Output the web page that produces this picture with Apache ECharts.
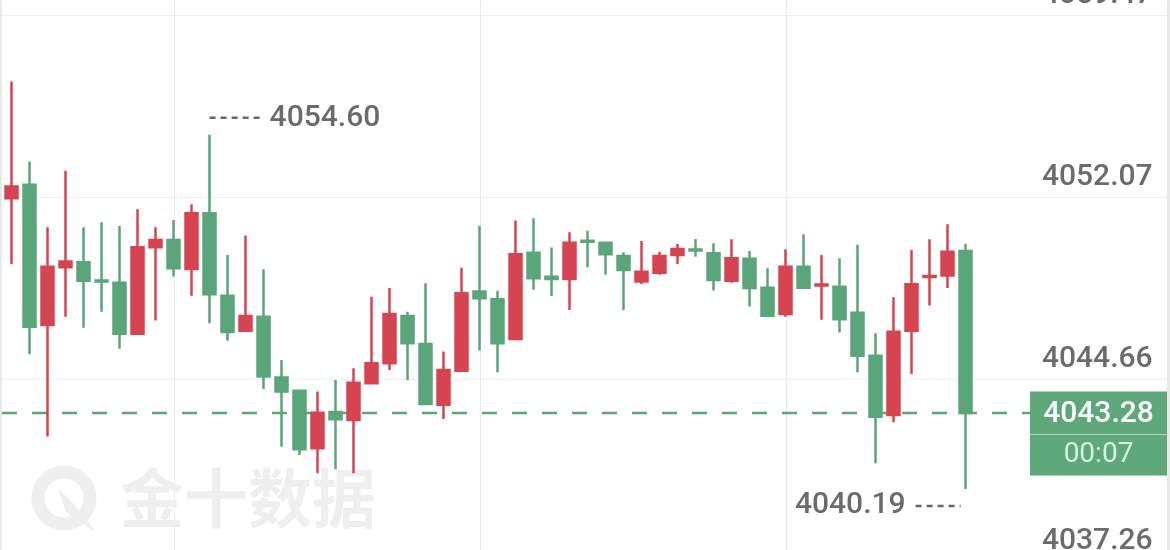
<!DOCTYPE html>
<html>
<head>
<meta charset="utf-8">
<script src="https://cdn.jsdelivr.net/npm/echarts@6/dist/echarts.min.js"></script>
<style>
html,body{margin:0;padding:0;background:#ffffff;}
#c{width:1170px;height:550px;}
</style>
</head>
<body>
<div id="c"></div>
<script>
// ---------- data ----------
const categories = ['1','2','3','4','5','6','7','8','9','10','11','12','13','14','15','16','17','18','19','20',
  '21','22','23','24','25','26','27','28','29','30','31','32','33','34','35','36','37','38','39','40',
  '41','42','43','44','45','46','47','48','49','50','51','52','53','54'];

const opens = [4052.02, 4052.56, 4046.86, 4049.21, 4049.41, 4048.67, 4048.58, 4046.50, 4050.02, 4050.32,
  4049.14, 4051.41, 4048.05, 4046.63, 4047.20, 4044.72, 4044.19, 4041.85, 4043.32, 4043.00,
  4044.49, 4045.30, 4047.23, 4046.09, 4043.62, 4045.00, 4048.22, 4047.91, 4046.29, 4049.80,
  4048.82, 4048.73, 4050.29, 4050.21, 4049.67, 4048.63, 4048.99, 4049.71, 4049.93, 4049.78,
  4048.66, 4049.55, 4048.38, 4047.31, 4049.23, 4048.47, 4048.42, 4047.36, 4045.61, 4043.20,
  4046.63, 4048.81, 4048.87, 4049.87];

const closes = [4052.49, 4046.79, 4049.23, 4049.44, 4048.66, 4048.63, 4046.50, 4050.02, 4050.32, 4049.17,
  4051.41, 4048.11, 4046.58, 4047.23, 4044.76, 4044.15, 4041.81, 4043.29, 4043.03, 4044.51,
  4045.30, 4047.31, 4046.12, 4043.65, 4045.03, 4048.15, 4047.95, 4046.12, 4049.74, 4048.76,
  4048.73, 4050.21, 4050.25, 4049.74, 4049.10, 4049.03, 4049.67, 4049.95, 4049.89, 4048.69,
  4049.58, 4048.36, 4047.24, 4049.23, 4048.38, 4048.51, 4047.09, 4045.61, 4043.13, 4046.59,
  4048.52, 4048.85, 4049.84, 4043.28];

const lows = [4049.33, 4045.67, 4042.32, 4047.20, 4046.75, 4047.40, 4045.89, 4046.48, 4047.04, 4048.83,
  4048.05, 4046.93, 4046.22, 4046.60, 4044.26, 4041.91, 4041.57, 4040.83, 4040.99, 4040.83,
  4044.47, 4045.03, 4044.62, 4043.63, 4043.04, 4044.98, 4045.82, 4044.94, 4046.27, 4048.29,
  4048.04, 4047.47, 4049.21, 4048.90, 4047.47, 4048.53, 4048.90, 4049.34, 4049.64, 4048.26,
  4048.58, 4047.61, 4047.18, 4047.20, 4048.36, 4047.07, 4046.55, 4044.94, 4041.24, 4042.90,
  4044.87, 4047.65, 4048.36, 4040.19];

const highs = [4056.76, 4053.51, 4050.84, 4053.13, 4050.84, 4051.04, 4050.89, 4051.57, 4050.84, 4051.13,
  4051.77, 4054.60, 4049.71, 4050.50, 4049.13, 4045.44, 4044.22, 4044.15, 4044.62, 4045.10,
  4048.01, 4048.36, 4047.40, 4048.56, 4045.78, 4049.19, 4050.89, 4048.25, 4051.11, 4051.20,
  4050.01, 4050.63, 4050.69, 4050.23, 4049.82, 4050.28, 4049.84, 4050.15, 4050.36, 4050.19,
  4050.35, 4049.87, 4049.17, 4049.94, 4050.55, 4049.71, 4049.58, 4050.12, 4046.52, 4047.99,
  4049.91, 4050.35, 4050.96, 4050.16];

const yTicks = [4037.26, 4044.66, 4052.07, 4059.47];
const lastPrice = 4043.28;
const countdown = '00:07';
const hiMarkIndex = 11;
const loMarkIndex = 53;
const vLineIndices = [9, 26, 43];
const watermarkText = '金十数据';

// ---------- styles ----------
const RED = '#d64452';
const GREEN = '#5aa57a';
const BOX = '#5ea87c';
const LABEL = '#6b6b6b';
const FONT = 'Roboto, "Noto Sans", sans-serif';

const chart = echarts.init(document.getElementById('c'), null, {renderer: 'canvas'});
const yMin = yTicks[0];
const yMax = yTicks[yTicks.length - 1];
const yStep = (yMax - yMin) / (yTicks.length - 1);

const option = {
  animation: false,
  backgroundColor: '#ffffff',
  grid: {left: 2.6, right: -2.6, top: 15, bottom: -11, containLabel: false, outerBoundsMode: 'none'},
  xAxis: {
    type: 'category',
    data: categories,
    max: 64,
    boundaryGap: true,
    axisLine: {show: false},
    axisTick: {show: false},
    axisLabel: {show: false},
    splitLine: {show: false}
  },
  yAxis: {
    type: 'value',
    position: 'right',
    min: yMin,
    max: yMax,
    interval: yStep,
    scale: true,
    axisLine: {show: false},
    axisTick: {show: false},
    splitLine: {show: true, lineStyle: {color: '#eeeeee', width: 1}},
    axisLabel: {
      inside: true,
      margin: 20,
      align: 'right',
      verticalAlign: 'bottom',
      padding: [0, 0, 5, 0],
      color: LABEL,
      fontSize: 30,
      fontWeight: 500,
      fontFamily: FONT,
      formatter: function (v) {
        let best = yTicks[0];
        yTicks.forEach(function (t) { if (Math.abs(t - v) < Math.abs(best - v)) best = t; });
        return best.toFixed(2);
      }
    }
  },
  series: [{
    type: 'candlestick',
    z: 5,
    barWidth: 12.5,
    data: opens.map(function (o, i) { return [o, closes[i], lows[i], highs[i]]; }),
    itemStyle: {
      color: RED, color0: GREEN,
      borderColor: RED, borderColor0: GREEN,
      borderWidth: 2.5
    }
  }]
};
chart.setOption(option);

function px(i, v) { return chart.convertToPixel({seriesIndex: 0}, [i, v]); }

const g = [];
// vertical grid lines
vLineIndices.forEach(function (idx) {
  const x = Math.round(px(idx, yMin)[0]) + 0.5;
  g.push({type: 'line', z: 0, silent: true, shape: {x1: x, y1: 0, x2: x, y2: 550},
    style: {stroke: '#ebebeb', lineWidth: 1}});
});
// edges
g.push({type: 'rect', z: 50, silent: true, shape: {x: 0, y: 0, width: 2, height: 550}, style: {fill: '#e8e8e8'}});
g.push({type: 'rect', z: 50, silent: true, shape: {x: 1167, y: 0, width: 3, height: 550}, style: {fill: '#e8e8e8'}});

// watermark
g.push({type: 'circle', z: 1, silent: true, shape: {cx: 64, cy: 498, r: 26},
  style: {fill: 'none', stroke: '#eeeeee', lineWidth: 13}});
g.push({type: 'polygon', z: 1, silent: true, shape: {points: [[58, 488], [74, 504], [96, 532], [66, 512]]},
  style: {fill: '#eeeeee'}});
g.push({type: 'text', z: 1, silent: true, x: 120, y: 498,
  style: {text: watermarkText, fill: '#eeeeee', font: 'bold 64px "Noto Sans CJK SC"', align: 'left', verticalAlign: 'middle'}});

// current price dashed line
const pLast = px(opens.length - 1, lastPrice);
const yl = Math.round(pLast[1]);
g.push({type: 'line', z: 1, silent: true, shape: {x1: 2, y1: yl, x2: 1030, y2: yl},
  style: {stroke: GREEN, lineWidth: 2.5, lineDash: [15, 15]}});

// price box
g.push({type: 'rect', z: 60, silent: true, shape: {x: 1030, y: yl - 21.5, width: 137, height: 84}, style: {fill: BOX}});
g.push({type: 'line', z: 61, silent: true, shape: {x1: 1030, y1: yl + 21.5, x2: 1167, y2: yl + 21.5},
  style: {stroke: 'rgba(255,255,255,0.55)', lineWidth: 1}});
g.push({type: 'text', z: 62, silent: true, x: 1098.5, y: yl + 1,
  style: {text: lastPrice.toFixed(2), fill: '#ffffff', font: '500 30px ' + FONT, align: 'center', verticalAlign: 'middle'}});
g.push({type: 'text', z: 62, silent: true, x: 1098.5, y: yl + 42,
  style: {text: countdown, fill: '#d6f1e0', font: '28px ' + FONT, align: 'center', verticalAlign: 'middle'}});

// max annotation
const pHi = px(hiMarkIndex, highs[hiMarkIndex]);
const yh = pHi[1] - 17;
g.push({type: 'line', z: 3, silent: true, shape: {x1: pHi[0], y1: yh, x2: pHi[0] + 52, y2: yh},
  style: {stroke: '#666666', lineWidth: 2.5, lineDash: [6, 5]}});
g.push({type: 'text', z: 3, silent: true, x: pHi[0] + 60, y: yh + 1,
  style: {text: highs[hiMarkIndex].toFixed(2), fill: LABEL, font: '500 30px ' + FONT, align: 'left', verticalAlign: 'middle'}});

// min annotation
const pLo = px(loMarkIndex, lows[loMarkIndex]);
const ylo = pLo[1] + 17;
g.push({type: 'line', z: 3, silent: true, shape: {x1: pLo[0] - 50, y1: ylo, x2: pLo[0] - 5, y2: ylo},
  style: {stroke: '#666666', lineWidth: 2.5, lineDash: [6, 5]}});
g.push({type: 'text', z: 3, silent: true, x: pLo[0] - 60, y: ylo,
  style: {text: lows[loMarkIndex].toFixed(2), fill: LABEL, font: '500 30px ' + FONT, align: 'right', verticalAlign: 'middle'}});

chart.setOption({graphic: {elements: g}});
</script>
</body>
</html>
